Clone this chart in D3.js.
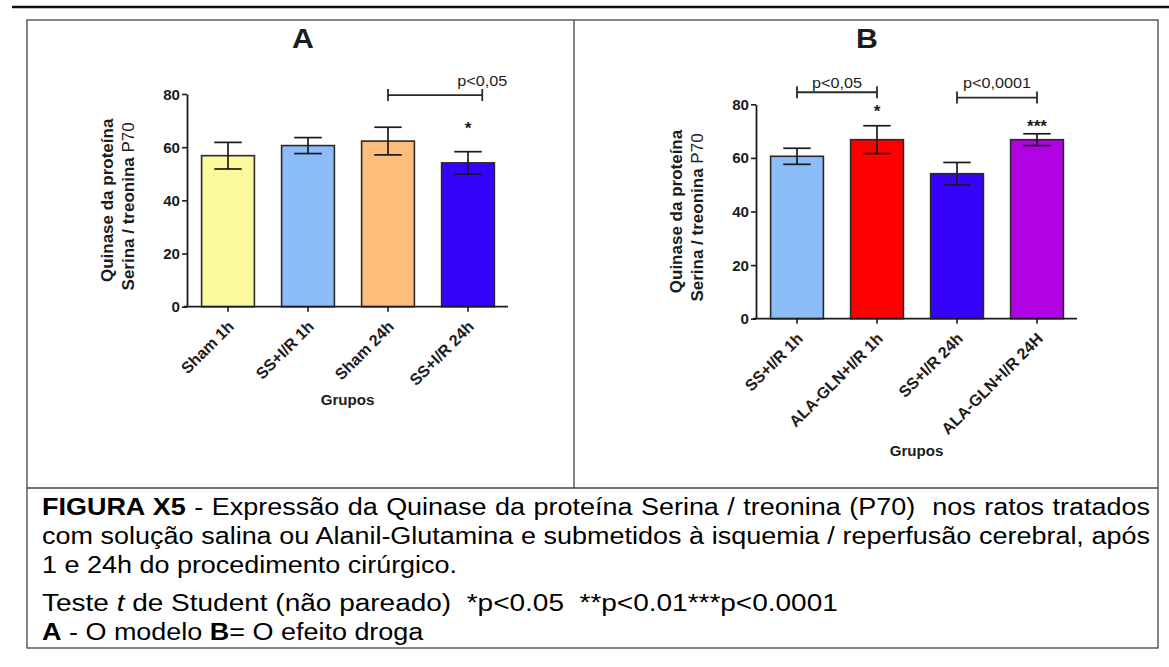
<!DOCTYPE html>
<html>
<head>
<meta charset="utf-8">
<script src="https://cdn.jsdelivr.net/npm/d3@7"></script>
<style>
  body { margin: 0; background: #fff; }
  svg { display: block; }
  text { font-family: "Liberation Sans", Arial, Helvetica, sans-serif; fill: #1c1c1c; }
  .caption text { white-space: pre; }
</style>
</head>
<body>
<svg id="fig" width="1169" height="667"></svg>
<script>
// ---- data -------------------------------------------------------------
// Panel A: the ischemia/reperfusion model
const groupsA = ["Sham 1h", "SS+I/R 1h", "Sham 24h", "SS+I/R 24h"];
const meansA  = [56.8, 60.6, 62.3, 54.1];
const semA    = [5.0, 3.0, 5.2, 4.2];
const colorsA = ["#FAFA9C", "#8DBDF8", "#FDBE7C", "#3502FB"];

// Panel B: drug effect
const groupsB = ["SS+I/R 1h", "ALA-GLN+I/R 1h", "SS+I/R 24h", "ALA-GLN+I/R 24H"];
const meansB  = [60.6, 66.8, 54.1, 66.8];
const semB    = [3.0, 5.2, 4.2, 2.2];
const colorsB = ["#8DBDF8", "#FF0000", "#3502FB", "#B102E1"];

const yTicks = [0, 20, 40, 60, 80];

// significance symbols: [group index, symbol, level in axis units]
const starsA = [[3, "*", 68.3]];
const starsB = [[1, "*", 78.7], [3, "***", 72.9]];

// comparison brackets (levels in axis units)
const bracketsA = [
  { from: 2, to: 3, level: 79.6, label: "p<0,05", labelLevel: 83.0, labelAt: "end", endShift: 0.27 }
];
const bracketsB = [
  { from: 0, to: 1, level: 84.5, label: "p<0,05",   labelLevel: 86.2, labelAt: "mid", endShift: 0 },
  { from: 2, to: 3, level: 82.5, label: "p<0,0001", labelLevel: 86.2, labelAt: "mid", endShift: 0 }
];

const yTitle1 = "Quinase da proteína";
const yTitle2a = "Serina / treonina ";
const yTitle2b = "P70";
const xTitle = "Grupos";

// ---- drawing -----------------------------------------------------------
const svg = d3.select("#fig");
const SX = 1.08;           // slight horizontal glyph stretch for upright chart text
const INK = "#1c1c1c";

// page rule and figure frame
svg.append("line").attr("x1", 12).attr("x2", 1169).attr("y1", 7).attr("y2", 7)
   .attr("stroke", "#111").attr("stroke-width", 2.5);
svg.append("rect").attr("x", 27).attr("y", 20).attr("width", 1131).attr("height", 628)
   .attr("fill", "none").attr("stroke", "#444").attr("stroke-width", 1.3);
svg.append("line").attr("x1", 27).attr("x2", 1158).attr("y1", 488).attr("y2", 488)
   .attr("stroke", "#444").attr("stroke-width", 1.3);
svg.append("line").attr("x1", 574).attr("x2", 574).attr("y1", 20).attr("y2", 488)
   .attr("stroke", "#444").attr("stroke-width", 1.3);

function drawPanel(cfg, groups, means, sem, colors, stars, brackets) {
  const g = svg.append("g");
  const y = d3.scaleLinear().domain([0, 80]).range([cfg.y0, cfg.y80]);
  const x = d3.scaleBand().domain(groups)
    .range([cfg.x0 + 1, cfg.x0 + 321]).paddingInner(0.34).paddingOuter(0.17);
  const bw = x.bandwidth();
  const cx = d => x(d) + bw / 2;

  const rows = groups.map((name, i) => ({ name, mean: means[i], sem: sem[i], color: colors[i] }));

  // bars
  g.selectAll("rect.bar").data(rows).join("rect").attr("class", "bar")
    .attr("x", d => x(d.name)).attr("width", bw)
    .attr("y", d => y(d.mean)).attr("height", d => y(0) - y(d.mean))
    .attr("fill", d => d.color).attr("stroke", "#2a2a2a").attr("stroke-width", 1.6);

  // error bars (mean ± SEM)
  const cap = bw * 0.26;
  const eb = g.selectAll("g.err").data(rows).join("g").attr("class", "err")
    .attr("stroke", "#1a1a1a").attr("stroke-width", 1.7);
  eb.append("line").attr("x1", d => cx(d.name)).attr("x2", d => cx(d.name))
    .attr("y1", d => y(d.mean - d.sem)).attr("y2", d => y(d.mean + d.sem));
  eb.append("line").attr("x1", d => cx(d.name) - cap).attr("x2", d => cx(d.name) + cap)
    .attr("y1", d => y(d.mean + d.sem)).attr("y2", d => y(d.mean + d.sem));
  eb.append("line").attr("x1", d => cx(d.name) - cap).attr("x2", d => cx(d.name) + cap)
    .attr("y1", d => y(d.mean - d.sem)).attr("y2", d => y(d.mean - d.sem));

  // y axis
  const ya = g.append("g").attr("transform", `translate(${cfg.x0},0)`)
    .call(d3.axisLeft(y).tickValues(yTicks).tickSize(5).tickSizeOuter(0).tickPadding(0));
  ya.select(".domain").attr("stroke", INK).attr("stroke-width", 1.8);
  ya.selectAll(".tick line").attr("stroke", INK).attr("stroke-width", 1.6);
  ya.selectAll(".tick text")
    .attr("x", null).attr("dy", "0.36em")
    .attr("transform", `translate(-7,0) scale(${SX},1)`)
    .attr("font-size", 14).attr("font-weight", "bold").attr("fill", INK)
    .attr("font-family", '"Liberation Sans", Arial, sans-serif');

  // x axis
  g.append("line").attr("x1", cfg.x0 - 3).attr("x2", cfg.x0 + 321)
    .attr("y1", y(0)).attr("y2", y(0)).attr("stroke", INK).attr("stroke-width", 1.8);
  g.selectAll("line.xt").data(groups).join("line").attr("class", "xt")
    .attr("x1", d => cx(d)).attr("x2", d => cx(d))
    .attr("y1", y(0)).attr("y2", y(0) + 5).attr("stroke", INK).attr("stroke-width", 1.6);
  g.selectAll("text.xl").data(groups).join("text").attr("class", "xl")
    .attr("transform", d => `translate(${cx(d) + 3},${y(0) + 17}) rotate(-45)`)
    .attr("text-anchor", "end").attr("dy", "0.35em")
    .attr("font-size", 16).attr("font-weight", "bold").text(d => d);

  // axis titles
  g.append("text")
    .attr("transform", `translate(${(cfg.x0 + cfg.x0 + 321) / 2},${cfg.xTitleY}) scale(${SX},1)`)
    .attr("text-anchor", "middle").attr("font-size", 14).attr("font-weight", "bold").text(xTitle);
  const midY = (cfg.y0 + cfg.y80) / 2;
  g.append("text")
    .attr("transform", `translate(${cfg.x0 - 80},${midY}) rotate(-90)`)
    .attr("text-anchor", "middle").attr("dy", "0.35em")
    .attr("font-size", 17).attr("font-weight", "bold").text(yTitle1);
  const t2 = g.append("text")
    .attr("transform", `translate(${cfg.x0 - 59},${midY + 6}) rotate(-90)`)
    .attr("text-anchor", "middle").attr("dy", "0.35em").attr("font-size", 17);
  t2.append("tspan").attr("font-weight", "bold").text(yTitle2a);
  t2.append("tspan").text(yTitle2b);

  // panel letter
  g.append("text")
    .attr("transform", `translate(${cfg.titleX},48) scale(${SX},1)`)
    .attr("text-anchor", "middle").attr("font-size", 28).attr("font-weight", "bold")
    .attr("fill", "#000").text(cfg.title);

  // significance symbols
  g.selectAll("text.star").data(stars).join("text").attr("class", "star")
    .attr("transform", d => `translate(${cx(groups[d[0]])},${y(d[2]) + 9}) scale(${SX},1)`)
    .attr("text-anchor", "middle").attr("font-size", 16).attr("font-weight", "bold")
    .text(d => d[1]);

  // comparison brackets
  brackets.forEach(b => {
    const xa = cx(groups[b.from]);
    const xb = cx(groups[b.to]) + b.endShift * bw;
    const yb = y(b.level);
    const bg = g.append("g").attr("stroke", "#2a2a2a").attr("stroke-width", 1.8);
    bg.append("line").attr("x1", xa).attr("x2", xb).attr("y1", yb).attr("y2", yb);
    bg.append("line").attr("x1", xa).attr("x2", xa).attr("y1", yb - 6).attr("y2", yb + 6);
    bg.append("line").attr("x1", xb).attr("x2", xb).attr("y1", yb - 6).attr("y2", yb + 6);
    const lx = b.labelAt === "end" ? xb : (xa + xb) / 2;
    g.append("text")
      .attr("transform", `translate(${lx},${y(b.labelLevel)}) scale(${SX},1)`)
      .attr("text-anchor", "middle").attr("font-size", 15).text(b.label);
  });
}

drawPanel({ x0: 187, y0: 306.7, y80: 94,  xTitleY: 405, title: "A", titleX: 303 },
          groupsA, meansA, semA, colorsA, starsA, bracketsA);
drawPanel({ x0: 756, y0: 318.7, y80: 104.3, xTitleY: 456, title: "B", titleX: 867 },
          groupsB, meansB, semB, colorsB, starsB, bracketsB);

// ---- caption ------------------------------------------------------------
const captionLines = [
  [["FIGURA X5", "bold"], [" - Expressão da Quinase da proteína Serina / treonina (P70)  nos ratos tratados", ""]],
  [["com solução salina ou Alanil-Glutamina e submetidos à isquemia / reperfusão cerebral, após", ""]],
  [["1 e 24h do procedimento cirúrgico.", ""]],
  [["Teste ", ""], ["t", "italic"], [" de Student (não pareado)  *p<0.05  **p<0.01***p<0.0001", ""]],
  [["A", "bold"], [" - O modelo ", ""], ["B", "bold"], ["= O efeito droga", ""]]
];
const captionBaselines = [515, 544, 573, 611, 640];
const captionSizes = [23, 23, 23, 24.6, 23];
const justified = [true, true, false, false, false];
const CAP_LEFT = 42, CAP_RIGHT = 1150;

const cap = svg.append("g").attr("class", "caption");
const capTexts = captionLines.map((parts, i) => {
  const t = cap.append("text").attr("font-size", captionSizes[i]).attr("fill", "#000")
    .attr("y", captionBaselines[i]).attr("x", 0);
  parts.forEach(([s, st]) => {
    const ts = t.append("tspan").text(s).attr("fill", "#000");
    if (st === "bold") ts.attr("font-weight", "bold");
    if (st === "italic") ts.attr("font-style", "italic");
  });
  return t;
});
const natLen = capTexts.map(t => t.node().getComputedTextLength());
// shared glyph stretch: balance the full first line against the short third line
const capSX = 0.5 * ((CAP_RIGHT - CAP_LEFT) / natLen[0] + (452 - CAP_LEFT) / natLen[2]);
// the statistics line is set a touch larger; fit it to its run of 796 px
captionSizes[3] = captionSizes[3] * (796 / capSX) / natLen[3];
capTexts[3].attr("font-size", captionSizes[3]);

capTexts.forEach((t, i) => {
  t.attr("transform", `translate(${CAP_LEFT},0) scale(${capSX},1)`);
  if (justified[i]) {
    // spread the words so the line fills the caption cell, like justified prose
    const natural = t.node().getComputedTextLength();
    const spaces = (t.text().match(/ /g) || []).length;
    const extra = ((CAP_RIGHT - CAP_LEFT) / capSX - natural) / spaces;
    t.attr("word-spacing", extra);
  }
});
</script>
</body>
</html>
